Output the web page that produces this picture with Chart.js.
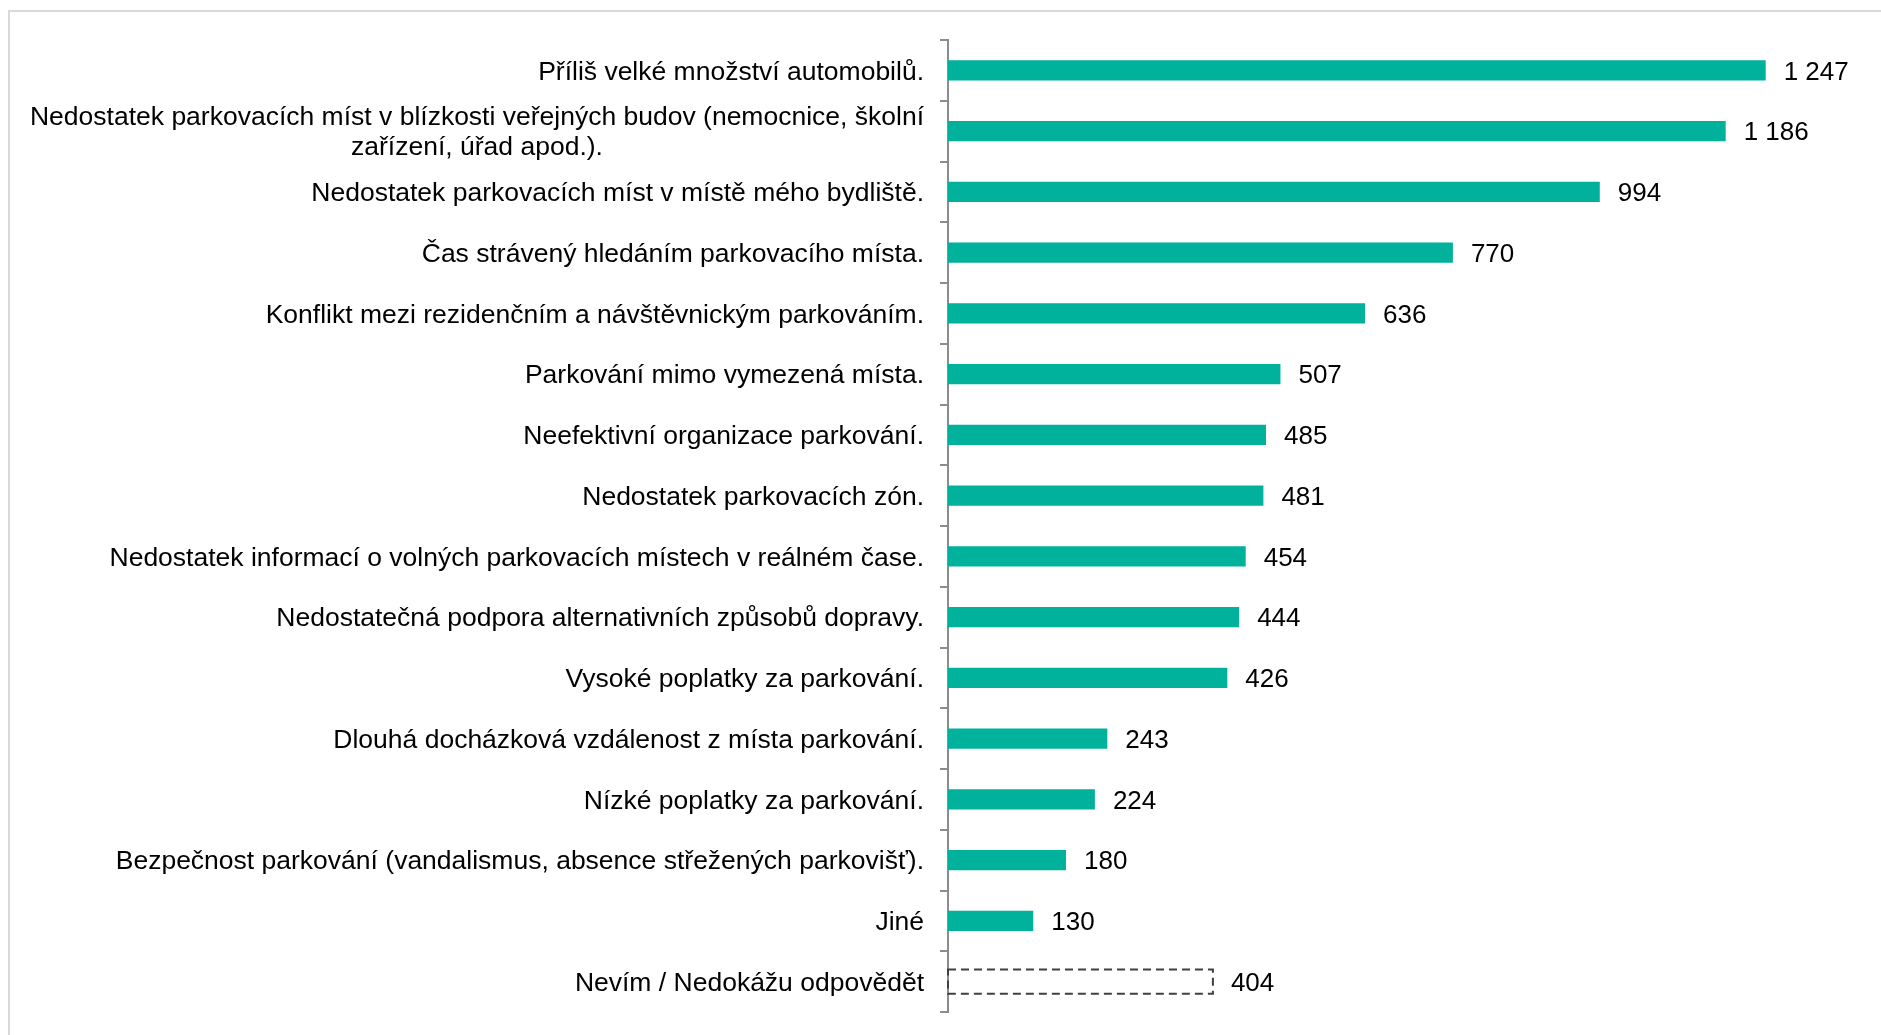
<!DOCTYPE html>
<html>
<head>
<meta charset="utf-8">
<script src="https://cdn.jsdelivr.net/npm/chart.js@4"></script>
<style>
  html, body { margin: 0; padding: 0; background: #fff; }
  #wrap { position: relative; width: 1881px; height: 1035px; }
  #frame { position: absolute; left: 8px; top: 10px; right: 0; bottom: 0;
           border-top: 2px solid #d9d9d9; border-left: 2px solid #d9d9d9; }
  canvas { position: absolute; left: 0; top: 0; }
</style>
</head>
<body>
<div id="wrap">
  <div id="frame"></div>
  <canvas id="metricChart" width="1881" height="1035"></canvas>
</div>
<script>
// categories, top to bottom
const categories = [
    'Příliš velké množství automobilů.',
    ['Nedostatek parkovacích míst v blízkosti veřejných budov (nemocnice, školní', 'zařízení, úřad apod.).'],
    'Nedostatek parkovacích míst v místě mého bydliště.',
    'Čas strávený hledáním parkovacího místa.',
    'Konflikt mezi rezidenčním a návštěvnickým parkováním.',
    'Parkování mimo vymezená místa.',
    'Neefektivní organizace parkování.',
    'Nedostatek parkovacích zón.',
    'Nedostatek informací o volných parkovacích místech v reálném čase.',
    'Nedostatečná podpora alternativních způsobů dopravy.',
    'Vysoké poplatky za parkování.',
    'Dlouhá docházková vzdálenost z místa parkování.',
    'Nízké poplatky za parkování.',
    'Bezpečnost parkování (vandalismus, absence střežených parkovišť).',
    'Jiné',
    'Nevím / Nedokážu odpovědět'
];
const counts = [1247, 1186, 994, 770, 636, 507, 485, 481, 454, 444, 426, 243, 224, 180, 130, 404];
// last answer is drawn as a dashed outline
const dashedIndex = [15];

const teal = '#00b19c';
const fontFamily = '"Liberation Sans", Arial, sans-serif';

function fmt(v)
{
    return String(v).replace(/\B(?=(\d{3})+(?!\d))/g, ' ');
}

// y labels: block right aligned, lines centred inside the block (like Excel)
const yLabelsPlugin = {
    id: 'yLabels',
    afterDraw(chart) {
        const ctx = chart.ctx;
        const y = chart.scales.y;
        ctx.save();
        ctx.font = '26.5px ' + fontFamily;
        ctx.fillStyle = '#000';
        ctx.textBaseline = 'middle';
        ctx.textAlign = 'center';
        const right = y.right - 24;
        const lh = 30;
        categories.forEach((lab, i) => {
            const lines = Array.isArray(lab) ? lab : [lab];
            const w = Math.max(...lines.map(l => ctx.measureText(l).width));
            const cx = right - w / 2;
            const cy = y.getPixelForValue(i) + 2;
            lines.forEach((l, k) => {
                ctx.fillText(l, cx, cy + (k - (lines.length - 1) / 2) * lh);
            });
        });
        ctx.restore();
    }
};

// value labels + dashed bar
const valuesPlugin = {
    id: 'values',
    afterDatasetsDraw(chart) {
        const ctx = chart.ctx;
        const meta = chart.getDatasetMeta(0);
        ctx.save();
        meta.data.forEach((bar, i) => {
            const p = bar.getProps(['x', 'y', 'base', 'height'], true);
            if (dashedIndex.includes(i)) {
                ctx.strokeStyle = '#404040';
                ctx.lineWidth = 2;
                ctx.setLineDash([8, 5]);
                const h = p.height + 4;
                ctx.strokeRect(p.base, p.y - h / 2, p.x - p.base, h);
                ctx.setLineDash([]);
            }
            ctx.font = '26px ' + fontFamily;
            ctx.fillStyle = '#000';
            ctx.textAlign = 'left';
            ctx.textBaseline = 'middle';
            ctx.fillText(fmt(counts[i]), p.x + 18, p.y + 2);
        });
        ctx.restore();
    }
};

const ctx = document.getElementById('metricChart').getContext('2d');
new Chart(ctx, {
    type: 'bar',
    data: {
        labels: categories,
        datasets: [{
            data: counts,
            backgroundColor: counts.map((v, i) => dashedIndex.includes(i) ? 'rgba(0,0,0,0)' : teal),
            borderWidth: 0,
            barPercentage: 0.33,
            categoryPercentage: 1
        }]
    },
    options: {
        indexAxis: 'y',
        responsive: false,
        animation: false,
        layout: { padding: { top: 40, bottom: 23, left: 0, right: 15 } },
        plugins: {
            legend: { display: false },
            tooltip: { enabled: false }
        },
        scales: {
            x: {
                display: false,
                min: 0,
                max: 1400
            },
            y: {
                afterFit(scale) { scale.width = 948; },
                ticks: { display: false },
                border: { display: true, color: '#8c8c8c', width: 2 },
                grid: {
                    display: true,
                    offset: true,
                    drawOnChartArea: false,
                    drawTicks: true,
                    tickLength: 8,
                    color: '#8c8c8c',
                    lineWidth: 2
                }
            }
        }
    },
    plugins: [yLabelsPlugin, valuesPlugin]
});
</script>
</body>
</html>
